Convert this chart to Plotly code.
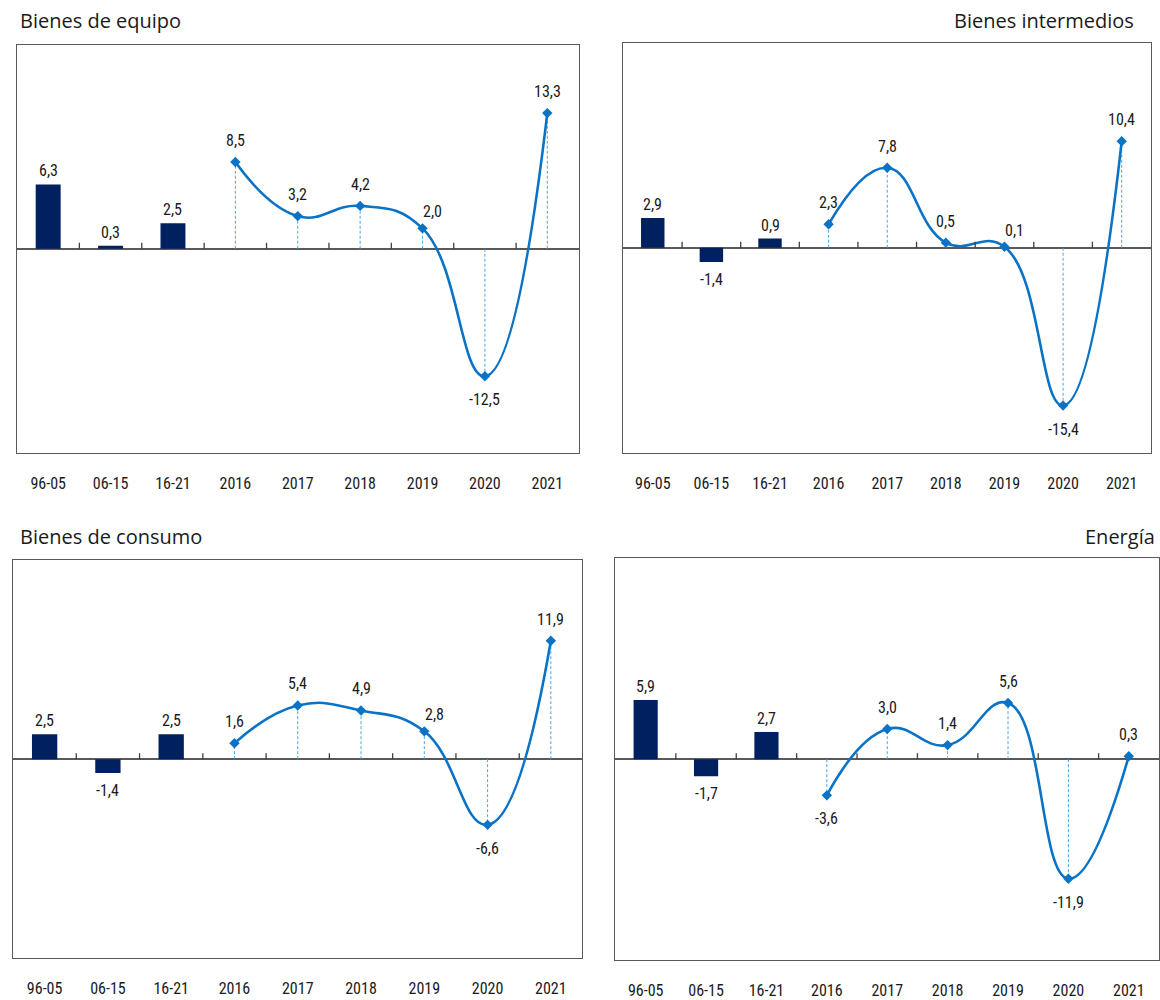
import plotly.graph_objects as go

# ---------------- data ----------------
categories = ["96-05", "06-15", "16-21", "2016", "2017", "2018", "2019", "2020", "2021"]
period_cats = categories[:3]
year_cats = categories[3:]

titles = ["Bienes de equipo", "Bienes intermedios", "Bienes de consumo", "Energía"]

equipo_periods = [6.3, 0.3, 2.5]
equipo_years = [8.5, 3.2, 4.2, 2.0, -12.5, 13.3]

intermedios_periods = [2.9, -1.4, 0.9]
intermedios_years = [2.3, 7.8, 0.5, 0.1, -15.4, 10.4]

consumo_periods = [2.5, -1.4, 2.5]
consumo_years = [1.6, 5.4, 4.9, 2.8, -6.6, 11.9]

energia_periods = [5.9, -1.7, 2.7]
energia_years = [-3.6, 3.0, 1.4, 5.6, -11.9, 0.3]

panels_periods = [equipo_periods, intermedios_periods, consumo_periods, energia_periods]
panels_years = [equipo_years, intermedios_years, consumo_years, energia_years]

# ---------------- style ----------------
BAR_COLOR = "#002060"
LINE_COLOR = "#0A73C6"
DROP_COLOR = "#4FA3E3"
FRAME_COLOR = "#595959"
TEXT_COLOR = "#1a1a1a"
NUM_FONT = "Roboto Condensed, Liberation Sans Narrow, sans-serif"
TITLE_FONT = "Open Sans, Noto Sans, sans-serif"

# panel domains (paper fractions)
domains = [
    dict(x=[17 / 1160, 579 / 1160], y=[1 - 455 / 1000, 1 - 45 / 1000]),
    dict(x=[624 / 1160, 1152 / 1160], y=[1 - 455 / 1000, 1 - 43 / 1000]),
    dict(x=[13 / 1160, 583 / 1160], y=[1 - 963 / 1000, 1 - 563 / 1000]),
    dict(x=[616 / 1160, 1.0], y=[1 - 965 / 1000, 1 - 561 / 1000]),
]
# label placement for year points: 'u' above, 'd' below, 'r' up-right
year_label_pos = [
    ["u", "u", "u", "r", "d", "u"],
    ["u", "u", "u", "r", "d", "u"],
    ["u", "u", "u", "r", "d", "u"],
    ["d", "u", "u", "u", "d", "u"],
]
title_pos = [
    dict(x=18 / 1160, y=1 - 21 / 1000, xanchor="left"),
    dict(x=1137 / 1160, y=1 - 21 / 1000, xanchor="right"),
    dict(x=18 / 1160, y=1 - 539 / 1000, xanchor="left"),
    dict(x=1158 / 1160, y=1 - 539 / 1000, xanchor="right"),
]

def fmt(v):
    return f"{v:.1f}".replace(".", ",")

num_font = dict(family=NUM_FONT, size=16, color=TEXT_COLOR, weight="normal")

fig = go.Figure()
annotations = []
shapes = []
layout_axes = {}

n_period = len(period_cats)
for p in range(4):
    sfx = "" if p == 0 else str(p + 1)
    xa, ya = "x" + sfx, "y" + sfx
    xref_name, yref_name = "xaxis" + sfx, "yaxis" + sfx
    periods = panels_periods[p]
    years = panels_years[p]
    px = list(range(n_period))
    yx = [n_period + i for i in range(len(year_cats))]

    # bars
    fig.add_trace(go.Bar(x=px, y=periods, xaxis=xa, yaxis=ya, width=0.4,
                         marker=dict(color=BAR_COLOR, line=dict(width=0)),
                         showlegend=False, hoverinfo="skip"))
    # drop lines
    dx, dy = [], []
    for xi, v in zip(yx, years):
        dx += [xi, xi, None]
        dy += [0, v, None]
    fig.add_trace(go.Scatter(x=dx, y=dy, xaxis=xa, yaxis=ya, mode="lines",
                             line=dict(color=DROP_COLOR, width=1, dash="3px,2px"),
                             showlegend=False, hoverinfo="skip"))
    # smooth line
    fig.add_trace(go.Scatter(x=yx, y=years, xaxis=xa, yaxis=ya, mode="lines+markers",
                             line=dict(color=LINE_COLOR, width=2.6, shape="spline", smoothing=1.3),
                             marker=dict(symbol="diamond", size=8, color=LINE_COLOR),
                             showlegend=False, hoverinfo="skip"))

    # bar labels
    for xi, v in zip(px, periods):
        annotations.append(dict(x=xi, y=v, xref=xa, yref=ya, text=fmt(v), showarrow=False,
                                yanchor="bottom" if v >= 0 else "top",
                                yshift=2 if v >= 0 else -6, font=num_font))
    # point labels
    for xi, v, pos in zip(yx, years, year_label_pos[p]):
        a = dict(x=xi, y=v, xref=xa, yref=ya, text=fmt(v), showarrow=False, font=num_font)
        if pos == "u":
            a.update(yanchor="bottom", yshift=10)
        elif pos == "d":
            a.update(yanchor="top", yshift=-12)
        else:
            a.update(yanchor="bottom", yshift=5, xshift=10)
        annotations.append(a)

    # small ticks on the zero line between categories
    for k in range(len(categories) - 1):
        shapes.append(dict(type="line", xref=xa, yref=ya, x0=k + 0.5, x1=k + 0.5,
                           ysizemode="pixel", yanchor=0, y0=0, y1=6,
                           line=dict(color="#404040", width=1.3)))

    # title
    tp = title_pos[p]
    annotations.append(dict(x=tp["x"], y=tp["y"], xref="paper", yref="paper",
                            xanchor=tp["xanchor"], yanchor="middle", text=titles[p],
                            showarrow=False,
                            font=dict(family=TITLE_FONT, size=20, color=TEXT_COLOR)))

    layout_axes[xref_name] = dict(domain=domains[p]["x"], anchor=ya,
                                  range=[-0.5, len(categories) - 0.5],
                                  tickmode="array", tickvals=list(range(len(categories))),
                                  ticktext=categories, ticks="", ticklabelstandoff=16,
                                  tickfont=num_font,
                                  showline=True, mirror=True, linecolor=FRAME_COLOR, linewidth=1.2,
                                  showgrid=False, zeroline=False, fixedrange=True)
    layout_axes[yref_name] = dict(domain=domains[p]["y"], anchor=xa, range=[-20, 20],
                                  showticklabels=False, ticks="", showgrid=False,
                                  zeroline=True, zerolinecolor=FRAME_COLOR, zerolinewidth=1.5,
                                  showline=True, mirror=True, linecolor=FRAME_COLOR, linewidth=1.2,
                                  fixedrange=True)

fig.update_layout(width=1160, height=1000, margin=dict(l=0, r=0, t=0, b=0),
                  paper_bgcolor="white", plot_bgcolor="white", barmode="overlay",
                  annotations=annotations, shapes=shapes, **layout_axes)

fig.write_html("out.html")
